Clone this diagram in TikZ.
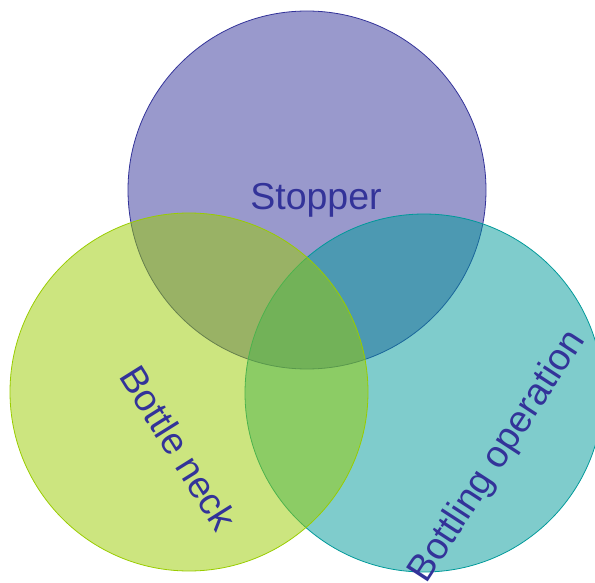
\documentclass[tikz,border=0pt]{standalone}
\usepackage{fontspec}
\setmainfont{Liberation Sans}
\definecolor{cpurple}{HTML}{333399}
\definecolor{cgreen}{HTML}{99CC00}
\definecolor{cteal}{HTML}{009999}
\definecolor{ctext}{HTML}{333399}
\begin{document}
\begin{tikzpicture}[x=1pt,y=-1pt,
  venn/.style={circle, minimum size=358pt, inner sep=0pt, line width=0.8pt, fill opacity=0.5, draw opacity=1},
  lbl/.style={text=ctext, font=\fontsize{37.5}{42}\selectfont, inner sep=0pt}]
\useasboundingbox (0,0) rectangle (595,583);
\clip (0,0) rectangle (595,583);
\node[venn, draw=cpurple, fill=cpurple] (top) at (307,190) {};
\node[venn, draw=cteal, fill=cteal] (right) at (424,393) {};
\node[venn, draw=cgreen, fill=cgreen] (left) at (189,392) {};
\node[lbl] (t1) at (316,200) {Stopper};
\node[lbl, rotate=-58] (t2) at (179,448) {Bottle neck};
\node[lbl, rotate=57] (t3) at (498,457) {Bottling operation};
\end{tikzpicture}
\end{document}
